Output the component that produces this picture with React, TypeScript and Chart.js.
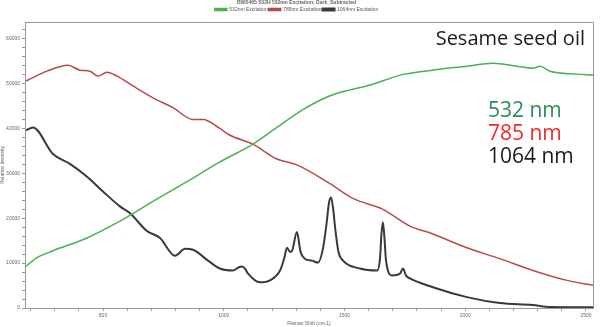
import React, { useEffect, useRef } from "react";
import { Chart, registerables } from "chart.js";
Chart.register(...registerables);

const titleText = "BWS465-532H 532nm Excitation: Dark_Subtracted";
const seriesNames = ["532nm Excitation", "785nm Excitation", "1064nm Excitation"];
const xTicks = [500, 1000, 1500, 2000, 2500];
const yTicks = [0, 10000, 20000, 30000, 40000, 50000, 60000];

const greenX = [181, 227, 293, 434, 570, 612, 707, 848, 984, 1121, 1220, 1328, 1440, 1523, 1606, 1717, 1750, 1866, 2007, 2115, 2214, 2280, 2309, 2351, 2462, 2529];
const greenY = [9300, 11210, 12750, 15600, 19340, 20660, 23740, 28130, 32530, 36490, 40220, 44180, 47260, 48580, 49670, 51650, 52090, 52970, 53850, 54510, 53850, 53410, 53850, 52750, 52090, 51870];

const redX = [181, 268, 355, 405, 446, 479, 517, 558, 624, 707, 790, 873, 914, 984, 1026, 1121, 1220, 1303, 1440, 1535, 1659, 1771, 1866, 2007, 2143, 2280, 2421, 2529];
const redY = [50550, 52750, 54070, 52970, 52750, 51650, 52530, 51650, 49460, 46820, 44620, 41980, 41980, 40000, 38470, 36490, 33190, 31870, 27690, 24400, 21980, 18240, 16490, 13410, 10990, 8350, 6150, 5060];

const blackX = [181, 210, 293, 363, 434, 500, 570, 612, 682, 736, 798, 840, 873, 935, 984, 1038, 1060, 1075, 1090, 1100, 1150, 1191, 1233, 1250, 1262, 1275, 1283, 1303, 1318, 1336, 1365, 1390, 1410, 1425, 1436, 1444, 1452, 1462, 1475, 1494, 1564, 1635, 1647, 1653, 1659, 1665, 1672, 1697, 1730, 1742, 1755, 1771, 1866, 2007, 2143, 2280, 2351, 2529];
const blackY = [39560, 40220, 34290, 32090, 29230, 25940, 22640, 21100, 17140, 15610, 11650, 13190, 12970, 10550, 8790, 8350, 9000, 9230, 8600, 7690, 5710, 6150, 8350, 11000, 13410, 12500, 12750, 16920, 12500, 10990, 10550, 10110, 13000, 18500, 23500, 24620, 22500, 17500, 12500, 10550, 8790, 8350, 11000, 16500, 19120, 16000, 10500, 7250, 7690, 8790, 7200, 6590, 4620, 2420, 1100, 660, 220, 150];

const labelLines = [
  { text: "532 nm", color: "#2e8b57" },
  { text: "785 nm", color: "#ee2c2c" },
  { text: "1064 nm", color: "#1a1a1a" },
];
const annotationTitle = "Sesame seed oil";

function pts(xs: number[], ys: number[]) {
  return xs.map((x, i) => ({ x, y: ys[i] }));
}

export default function App() {
  const ref = useRef<HTMLCanvasElement | null>(null);
  useEffect(() => {
    if (!ref.current) return;
    const xMinor: number[] = [];
    for (let v = 200; v <= 2500; v += 100) xMinor.push(v);
    const yMinor: number[] = [];
    for (let v = 0; v <= 62000; v += 2000) yMinor.push(v);

    const overlay = {
      id: "overlay",
      afterDraw(chart: any) {
        const { ctx, chartArea: a } = chart;
        ctx.save();
        ctx.strokeStyle = "#999";
        ctx.lineWidth = 1;
        ctx.strokeRect(a.left + 0.5, a.top + 0.5, a.right - a.left, a.bottom - a.top);
        ctx.fillStyle = "#1a1a1a";
        ctx.font = '20px "Open Sans"';
        ctx.textAlign = "right";
        ctx.textBaseline = "alphabetic";
        ctx.fillText(annotationTitle, 585, 45);
        ctx.font = '21px "Open Sans"';
        ctx.textAlign = "left";
        labelLines.forEach((l, i) => {
          ctx.fillStyle = l.color;
          ctx.fillText(l.text, 488, 117 + i * 23);
        });
        ctx.restore();
      },
    };

    const chart = new Chart(ref.current, {
      type: "line",
      data: {
        datasets: [
          { label: seriesNames[0], data: pts(greenX, greenY), borderColor: "#4caf50", backgroundColor: "#4caf50", borderWidth: 1.5, pointRadius: 0, cubicInterpolationMode: "monotone" },
          { label: seriesNames[1], data: pts(redX, redY), borderColor: "#b84a4a", backgroundColor: "#b84a4a", borderWidth: 1.5, pointRadius: 0, cubicInterpolationMode: "monotone" },
          { label: seriesNames[2], data: pts(blackX, blackY), borderColor: "#3a3a3a", backgroundColor: "#3a3a3a", borderWidth: 2, pointRadius: 0, cubicInterpolationMode: "monotone" },
        ],
      },
      options: {
        animation: false,
        responsive: false,
        layout: { padding: { right: 7, top: 0, left: 0, bottom: 0 } },
        plugins: {
          title: { display: true, text: titleText, color: "#666", font: { size: 5, family: "Liberation Sans" }, padding: { top: 0, bottom: 0 } },
          legend: {
            display: true,
            labels: { boxWidth: 12, boxHeight: 2, color: "#555", font: { size: 5, family: "Liberation Sans" }, padding: 1 },
          },
          tooltip: { enabled: false },
        },
        scales: {
          x: {
            type: "linear",
            min: 177,
            max: 2529,
            afterBuildTicks: (s: any) => { s.ticks = xMinor.map((v) => ({ value: v })); },
            afterFit: (s: any) => { s.height = 19; },
            ticks: {
              autoSkip: false,
              maxRotation: 0,
              padding: 2,
              color: "#666",
              font: { size: 5, family: "Liberation Sans" },
              callback: (v: any) => (xTicks.includes(Number(v)) ? String(v) : ""),
            },
            grid: { drawOnChartArea: false, tickLength: 3, color: "#999" },
            border: { color: "#999" },
            title: { display: true, text: "Raman Shift (cm-1)", color: "#666", font: { size: 5, family: "Liberation Sans" }, padding: 0 },
          },
          y: {
            min: 0,
            max: 63700,
            afterBuildTicks: (s: any) => { s.ticks = yMinor.map((v) => ({ value: v })); },
            afterFit: (s: any) => { s.width = 25; },
            ticks: {
              autoSkip: false,
              padding: 2,
              color: "#666",
              font: { size: 5, family: "Liberation Sans" },
              callback: (v: any) => (yTicks.includes(Number(v)) ? String(v) : ""),
            },
            grid: { drawOnChartArea: false, tickLength: 3, color: "#999" },
            border: { color: "#999" },
            title: { display: true, text: "Relative Intensity", color: "#666", font: { size: 5, family: "Liberation Sans" }, padding: 0 },
          },
        },
      },
      plugins: [overlay],
    } as any);
    return () => chart.destroy();
  }, []);
  return (
    <div style={{ position: "fixed", left: 0, top: 0, width: 600, height: 327, background: "#fff" }}>
      <canvas ref={ref} width={600} height={327} style={{ width: 600, height: 327 }} />
    </div>
  );
}
